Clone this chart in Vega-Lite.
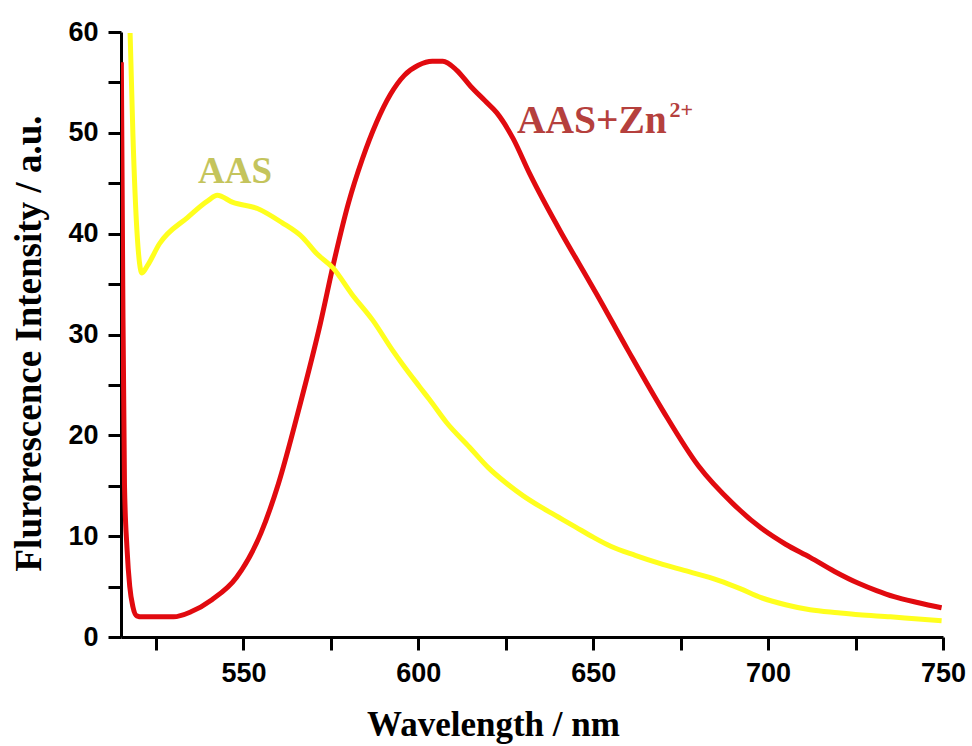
{
  "$schema": "https://vega.github.io/schema/vega-lite/v6.json",
  "width": 822,
  "height": 605,
  "autosize": "none",
  "padding": {"left": 121, "top": 32, "right": 29, "bottom": 109},
  "background": "white",
  "config": {"view": {"stroke": null}},
  "datasets": {
    "spectra": [
      {"series": "AAS+Zn2+", "wl": 515.1, "val": 57},
      {"series": "AAS+Zn2+", "wl": 515.5, "val": 35},
      {"series": "AAS+Zn2+", "wl": 516.0, "val": 15},
      {"series": "AAS+Zn2+", "wl": 516.7, "val": 8.9},
      {"series": "AAS+Zn2+", "wl": 517.5, "val": 5},
      {"series": "AAS+Zn2+", "wl": 518.4, "val": 3.0},
      {"series": "AAS+Zn2+", "wl": 519.5, "val": 2.1},
      {"series": "AAS+Zn2+", "wl": 521, "val": 2.0},
      {"series": "AAS+Zn2+", "wl": 525, "val": 2.0},
      {"series": "AAS+Zn2+", "wl": 530, "val": 2.0},
      {"series": "AAS+Zn2+", "wl": 535, "val": 2.5},
      {"series": "AAS+Zn2+", "wl": 541, "val": 3.7},
      {"series": "AAS+Zn2+", "wl": 548, "val": 5.9},
      {"series": "AAS+Zn2+", "wl": 555, "val": 10.3},
      {"series": "AAS+Zn2+", "wl": 560, "val": 15.2},
      {"series": "AAS+Zn2+", "wl": 566, "val": 22.8},
      {"series": "AAS+Zn2+", "wl": 572, "val": 31.1},
      {"series": "AAS+Zn2+", "wl": 576, "val": 37.4},
      {"series": "AAS+Zn2+", "wl": 580, "val": 43.0},
      {"series": "AAS+Zn2+", "wl": 584, "val": 47.4},
      {"series": "AAS+Zn2+", "wl": 588, "val": 51.0},
      {"series": "AAS+Zn2+", "wl": 592, "val": 53.8},
      {"series": "AAS+Zn2+", "wl": 596, "val": 55.7},
      {"series": "AAS+Zn2+", "wl": 600, "val": 56.7},
      {"series": "AAS+Zn2+", "wl": 604, "val": 57.1},
      {"series": "AAS+Zn2+", "wl": 607, "val": 57.1},
      {"series": "AAS+Zn2+", "wl": 611, "val": 56.2},
      {"series": "AAS+Zn2+", "wl": 615, "val": 54.6},
      {"series": "AAS+Zn2+", "wl": 619, "val": 53.2},
      {"series": "AAS+Zn2+", "wl": 622.4, "val": 52.0},
      {"series": "AAS+Zn2+", "wl": 627, "val": 49.5},
      {"series": "AAS+Zn2+", "wl": 631.9, "val": 45.9},
      {"series": "AAS+Zn2+", "wl": 641, "val": 40.0},
      {"series": "AAS+Zn2+", "wl": 646, "val": 37.0},
      {"series": "AAS+Zn2+", "wl": 651, "val": 34.0},
      {"series": "AAS+Zn2+", "wl": 660, "val": 28.4},
      {"series": "AAS+Zn2+", "wl": 670, "val": 22.4},
      {"series": "AAS+Zn2+", "wl": 680, "val": 17.0},
      {"series": "AAS+Zn2+", "wl": 690, "val": 13.2},
      {"series": "AAS+Zn2+", "wl": 698, "val": 10.8},
      {"series": "AAS+Zn2+", "wl": 705, "val": 9.2},
      {"series": "AAS+Zn2+", "wl": 712, "val": 7.9},
      {"series": "AAS+Zn2+", "wl": 719, "val": 6.5},
      {"series": "AAS+Zn2+", "wl": 726, "val": 5.3},
      {"series": "AAS+Zn2+", "wl": 731, "val": 4.6},
      {"series": "AAS+Zn2+", "wl": 736, "val": 4.0},
      {"series": "AAS+Zn2+", "wl": 743, "val": 3.4},
      {"series": "AAS+Zn2+", "wl": 749.6, "val": 2.9},
      {"series": "AAS", "wl": 517.6, "val": 59.9},
      {"series": "AAS", "wl": 518.4, "val": 49.9},
      {"series": "AAS", "wl": 519.6, "val": 40.0},
      {"series": "AAS", "wl": 521, "val": 36.1},
      {"series": "AAS", "wl": 522.5, "val": 36.8},
      {"series": "AAS", "wl": 526, "val": 39.0},
      {"series": "AAS", "wl": 534, "val": 41.6},
      {"series": "AAS", "wl": 540, "val": 43.3},
      {"series": "AAS", "wl": 542.5, "val": 43.8},
      {"series": "AAS", "wl": 547, "val": 43.1},
      {"series": "AAS", "wl": 554, "val": 42.5},
      {"series": "AAS", "wl": 561, "val": 41.1},
      {"series": "AAS", "wl": 567, "val": 39.6},
      {"series": "AAS", "wl": 571, "val": 38.0},
      {"series": "AAS", "wl": 575.6, "val": 36.6},
      {"series": "AAS", "wl": 581, "val": 34.0},
      {"series": "AAS", "wl": 587, "val": 31.4},
      {"series": "AAS", "wl": 592.7, "val": 28.4},
      {"series": "AAS", "wl": 596, "val": 26.8},
      {"series": "AAS", "wl": 600.4, "val": 24.8},
      {"series": "AAS", "wl": 603.3, "val": 23.5},
      {"series": "AAS", "wl": 608, "val": 21.3},
      {"series": "AAS", "wl": 614.7, "val": 18.8},
      {"series": "AAS", "wl": 620, "val": 16.8},
      {"series": "AAS", "wl": 625, "val": 15.3},
      {"series": "AAS", "wl": 630, "val": 14.0},
      {"series": "AAS", "wl": 635, "val": 12.9},
      {"series": "AAS", "wl": 640, "val": 11.9},
      {"series": "AAS", "wl": 645, "val": 10.9},
      {"series": "AAS", "wl": 650, "val": 9.9},
      {"series": "AAS", "wl": 655, "val": 9.0},
      {"series": "AAS", "wl": 662, "val": 8.1},
      {"series": "AAS", "wl": 669, "val": 7.3},
      {"series": "AAS", "wl": 676, "val": 6.6},
      {"series": "AAS", "wl": 686, "val": 5.6},
      {"series": "AAS", "wl": 692, "val": 4.8},
      {"series": "AAS", "wl": 698, "val": 3.9},
      {"series": "AAS", "wl": 705, "val": 3.2},
      {"series": "AAS", "wl": 712, "val": 2.7},
      {"series": "AAS", "wl": 720, "val": 2.4},
      {"series": "AAS", "wl": 726, "val": 2.2},
      {"series": "AAS", "wl": 735, "val": 2.0},
      {"series": "AAS", "wl": 742, "val": 1.8},
      {"series": "AAS", "wl": 749.6, "val": 1.6}
    ],
    "labelAAS": [
      {"text": "AAS", "wl": 537, "val": 45.0}
    ],
    "labelZn": [
      {"text": "AAS+Zn", "wl": 628.2, "val": 50.0}
    ],
    "sup": [
      {"text": "2+", "wl": 671.8, "val": 51.6}
    ]
  },
  "layer": [
    {
      "data": {"name": "spectra"},
      "mark": {"type": "line", "strokeWidth": 5, "interpolate": "monotone", "clip": true},
      "encoding": {
        "x": {
          "field": "wl", "type": "quantitative",
          "scale": {"domain": [515, 750], "nice": false, "zero": false},
          "axis": {
            "title": "Wavelength / nm",
            "values": [525, 550, 575, 600, 625, 650, 675, 700, 725, 750],
            "labelExpr": "datum.value % 50 === 0 ? datum.label : ''",
            "grid": false,
            "domainColor": "black", "domainWidth": 3,
            "tickColor": "black", "tickWidth": 3, "tickSize": 13,
            "encode": {"ticks": {"update": {"y2": {"signal": "datum.value % 50 === 0 ? 13 : 8"}}}},
            "labelFont": "Liberation Sans", "labelFontWeight": "bold", "labelFontSize": 27, "labelColor": "black",
            "labelPadding": 10, "labelFlush": false,
            "titleFont": "Liberation Serif", "titleFontWeight": "bold", "titleFontSize": 35, "titleColor": "black",
            "titleX": 372, "titleY": 98, "titleBaseline": "alphabetic", "titleAnchor": null, "titleAlign": "center"
          }
        },
        "y": {
          "field": "val", "type": "quantitative",
          "scale": {"domain": [0, 60], "nice": false},
          "axis": {
            "title": "Flurorescence Intensity / a.u.",
            "values": [0, 5, 10, 15, 20, 25, 30, 35, 40, 45, 50, 55, 60],
            "labelExpr": "datum.value % 10 === 0 ? datum.label : ''",
            "grid": false,
            "domainColor": "black", "domainWidth": 3,
            "tickColor": "black", "tickWidth": 3, "tickSize": 13,
            "encode": {"ticks": {"update": {"x2": {"signal": "datum.value % 10 === 0 ? -13 : -8"}}}},
            "labelFont": "Liberation Sans", "labelFontWeight": "bold", "labelFontSize": 27, "labelColor": "black",
            "labelPadding": 10, "labelFlush": false,
            "titleFont": "Liberation Serif", "titleFontWeight": "bold", "titleFontSize": 37, "titleColor": "black",
            "titleAngle": -90, "titleX": -92, "titleY": 311, "titleBaseline": "middle", "titleAlign": "center", "titleAnchor": null
          }
        },
        "color": {
          "field": "series", "type": "nominal",
          "scale": {"domain": ["AAS+Zn2+", "AAS"], "range": ["#e10a0f", "#ffff1e"]},
          "legend": null
        }
      }
    },
    {
      "data": {"name": "labelAAS"},
      "mark": {"type": "text", "font": "Liberation Serif", "fontWeight": "bold", "fontSize": 37, "align": "left", "baseline": "alphabetic", "color": "#c4c45c"},
      "encoding": {
        "x": {"field": "wl", "type": "quantitative"},
        "y": {"field": "val", "type": "quantitative"},
        "text": {"field": "text"}
      }
    },
    {
      "data": {"name": "labelZn"},
      "mark": {"type": "text", "font": "Liberation Serif", "fontWeight": "bold", "fontSize": 39.5, "align": "left", "baseline": "alphabetic", "color": "#b5403d"},
      "encoding": {
        "x": {"field": "wl", "type": "quantitative"},
        "y": {"field": "val", "type": "quantitative"},
        "text": {"field": "text"}
      }
    },
    {
      "data": {"name": "sup"},
      "mark": {"type": "text", "font": "Liberation Serif", "fontWeight": "bold", "fontSize": 22, "align": "left", "baseline": "alphabetic", "color": "#b5403d"},
      "encoding": {
        "x": {"field": "wl", "type": "quantitative"},
        "y": {"field": "val", "type": "quantitative"},
        "text": {"field": "text"}
      }
    }
  ]
}
